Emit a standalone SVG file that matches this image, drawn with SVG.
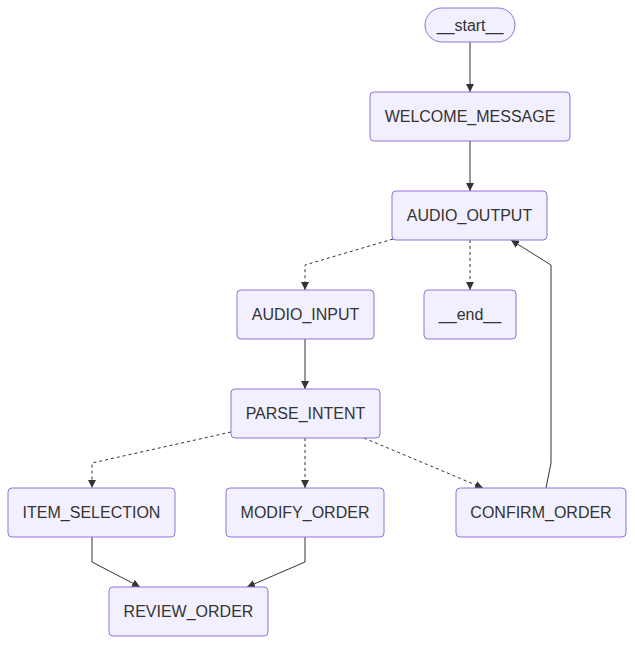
<svg xmlns="http://www.w3.org/2000/svg" width="635" height="645" viewBox="0 0 635 645">
<style>
.node rect{fill:#f2f0ff;stroke:#9370db;stroke-width:1}
.node text{font-family:"Liberation Sans",Arial,sans-serif;font-size:16px;fill:#333;text-anchor:middle;dominant-baseline:central}
.edge{fill:none;stroke:#333;stroke-width:1}
.dash{stroke-dasharray:3,3}
</style>
<defs>
<marker id="arr" viewBox="0 0 10 10" refX="10" refY="5" markerWidth="8" markerHeight="8" markerUnits="userSpaceOnUse" orient="auto">
<path d="M0,0 L10,5 L0,10 z" fill="#333"/>
</marker>
</defs>
<rect width="635" height="645" fill="#fff"/>
<g id="edges">
<path class="edge" d="M470,42 V92" marker-end="url(#arr)"/>
<path class="edge" d="M470,141 V191" marker-end="url(#arr)"/>
<path class="edge dash" d="M393,239 L305,265 V290" marker-end="url(#arr)"/>
<path class="edge dash" d="M470,240 V290" marker-end="url(#arr)"/>
<path class="edge" d="M305,339 V389" marker-end="url(#arr)"/>
<path class="edge dash" d="M231,432 L92,463 V488" marker-end="url(#arr)"/>
<path class="edge dash" d="M305,438 V488" marker-end="url(#arr)"/>
<path class="edge dash" d="M364,438 L483,488" marker-end="url(#arr)"/>
<path class="edge" d="M546,488 L551,463 V265 L511,240" marker-end="url(#arr)"/>
<path class="edge" d="M92,537 V562 L140,587" marker-end="url(#arr)"/>
<path class="edge" d="M305,537 V562 L247,587" marker-end="url(#arr)"/>
</g>
<g id="start" class="node"><rect x="425" y="8" width="90" height="34" rx="17"/><text x="470" y="25">__start__</text></g>
<g id="welcome" class="node"><rect x="370" y="92" width="200" height="49" rx="4"/><text x="470" y="116.5">WELCOME_MESSAGE</text></g>
<g id="audio_output" class="node"><rect x="392" y="191" width="155" height="49" rx="4"/><text x="469.5" y="215.5">AUDIO_OUTPUT</text></g>
<g id="audio_input" class="node"><rect x="237" y="290" width="137" height="49" rx="4"/><text x="305.5" y="314.5">AUDIO_INPUT</text></g>
<g id="end" class="node"><rect x="424" y="290" width="92" height="49" rx="4"/><text x="470" y="314.5">__end__</text></g>
<g id="parse_intent" class="node"><rect x="231" y="389" width="149" height="49" rx="4"/><text x="305.5" y="413.5">PARSE_INTENT</text></g>
<g id="item_selection" class="node"><rect x="8" y="488" width="167" height="49" rx="4"/><text x="91.5" y="512.5">ITEM_SELECTION</text></g>
<g id="modify_order" class="node"><rect x="226" y="488" width="158" height="49" rx="4"/><text x="305" y="512.5">MODIFY_ORDER</text></g>
<g id="confirm_order" class="node"><rect x="456" y="488" width="170" height="49" rx="4"/><text x="541" y="512.5">CONFIRM_ORDER</text></g>
<g id="review_order" class="node"><rect x="109" y="587" width="159" height="49" rx="4"/><text x="188.5" y="611.5">REVIEW_ORDER</text></g>
</svg>
